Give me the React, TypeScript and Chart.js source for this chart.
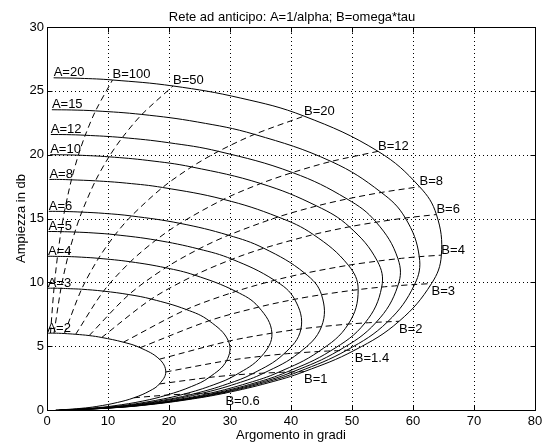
import { useEffect, useRef } from "react";
import { Chart, registerables } from "chart.js";

Chart.register(...registerables);

// A = 1/alpha (solid curves), B = omega*tau (dashed curves)
const aValues = [2, 3, 4, 5, 6, 8, 10, 12, 15, 20];
const bSamples = [0.05, 0.1, 0.2, 0.3, 0.45, 0.6, 0.8, 1, 1.4, 2, 3, 4, 6, 8, 12, 20, 30, 50, 100, 200, 1000];
const dashedB = [0.6, 1, 1.4, 2, 3, 4, 6, 8, 12, 20, 50, 100];
const xTicks = [0, 10, 20, 30, 40, 50, 60, 70, 80];
const yTicks = [0, 5, 10, 15, 20, 25, 30];

// phase (gradi) and gain (dB), one value per bSamples entry
const phaseA2 = [1.43, 2.85, 5.6, 8.17, 11.55, 14.27, 16.86, 18.43, 19.47, 18.43, 15.26, 12.53, 8.97, 6.91, 4.7, 2.85, 1.91, 1.15, 0.57, 0.29, 0.06];
const gainA2 = [0.01, 0.03, 0.13, 0.28, 0.59, 0.96, 1.5, 2.04, 2.98, 3.98, 4.88, 5.31, 5.68, 5.83, 5.93, 5.99, 6.01, 6.02, 6.02, 6.02, 6.02];
const phaseA3 = [1.91, 3.8, 7.5, 10.99, 15.7, 19.65, 23.73, 26.57, 29.44, 29.75, 26.57, 22.83, 17.1, 13.43, 9.27, 5.67, 3.8, 2.29, 1.15, 0.57, 0.11];
const gainA3 = [0.01, 0.04, 0.15, 0.33, 0.7, 1.17, 1.85, 2.55, 3.86, 5.39, 6.99, 7.87, 8.69, 9.04, 9.31, 9.46, 9.5, 9.53, 9.54, 9.54, 9.54];
const phaseA4 = [2.15, 4.28, 8.45, 12.41, 17.81, 22.43, 27.35, 30.96, 35.17, 36.87, 34.7, 30.96, 24.23, 19.44, 13.67, 8.45, 5.69, 3.43, 1.72, 0.86, 0.17];
const gainA4 = [0.01, 0.04, 0.16, 0.35, 0.75, 1.24, 1.98, 2.75, 4.21, 6.02, 8.06, 9.29, 10.56, 11.14, 11.61, 11.88, 11.97, 12.02, 12.03, 12.04, 12.04];
const phaseA5 = [2.29, 4.57, 9.02, 13.27, 19.09, 24.12, 29.57, 33.69, 38.82, 41.63, 40.6, 37.3, 30.34, 24.88, 17.86, 11.17, 7.55, 4.57, 2.29, 1.15, 0.23];
const gainA5 = [0.01, 0.04, 0.16, 0.36, 0.77, 1.27, 2.04, 2.84, 4.39, 6.35, 8.67, 10.16, 11.81, 12.61, 13.31, 13.73, 13.87, 13.94, 13.97, 13.98, 13.98];
const phaseA6 = [2.39, 4.76, 9.4, 13.84, 19.94, 25.25, 31.07, 35.54, 41.33, 45.0, 45.0, 42.27, 35.54, 29.75, 21.8, 13.84, 9.4, 5.7, 2.86, 1.43, 0.29];
const gainA6 = [0.01, 0.04, 0.17, 0.36, 0.78, 1.29, 2.07, 2.89, 4.48, 6.53, 9.03, 10.71, 12.67, 13.69, 14.62, 15.2, 15.4, 15.5, 15.55, 15.56, 15.56];
const phaseA8 = [2.5, 5.0, 9.88, 14.55, 21.01, 26.68, 32.95, 37.88, 44.54, 49.4, 51.01, 49.4, 43.67, 37.88, 28.93, 18.94, 13.02, 7.94, 4.0, 2.01, 0.4];
const gainA8 = [0.01, 0.04, 0.17, 0.37, 0.79, 1.31, 2.11, 2.94, 4.58, 6.73, 9.43, 11.34, 13.74, 15.12, 16.5, 17.43, 17.77, 17.95, 18.03, 18.06, 18.06];
const phaseA10 = [2.58, 5.14, 10.16, 14.98, 21.65, 27.53, 34.09, 39.29, 46.49, 52.13, 54.87, 54.16, 49.57, 44.22, 35.04, 23.7, 16.53, 10.16, 5.14, 2.58, 0.52];
const gainA10 = [0.01, 0.04, 0.17, 0.37, 0.79, 1.32, 2.12, 2.97, 4.63, 6.82, 9.63, 11.66, 14.35, 15.98, 17.74, 19.04, 19.55, 19.83, 19.96, 19.99, 20.0];
const phaseA12 = [2.62, 5.23, 10.36, 15.27, 22.08, 28.1, 34.85, 40.24, 47.81, 53.97, 57.53, 57.53, 53.97, 49.19, 40.24, 28.1, 19.89, 12.35, 6.27, 3.15, 0.63];
const gainA12 = [0.01, 0.04, 0.17, 0.37, 0.8, 1.32, 2.13, 2.98, 4.65, 6.87, 9.74, 11.85, 14.71, 16.53, 18.6, 20.26, 20.94, 21.34, 21.52, 21.57, 21.58];
const phaseA15 = [2.67, 5.33, 10.55, 15.55, 22.51, 28.67, 35.61, 41.19, 49.13, 55.84, 60.26, 61.03, 58.74, 54.8, 46.58, 34.01, 24.66, 15.55, 7.96, 4.0, 0.8];
const gainA15 = [0.01, 0.04, 0.17, 0.37, 0.8, 1.33, 2.14, 2.99, 4.68, 6.91, 9.83, 12.01, 15.04, 17.04, 19.47, 21.59, 22.56, 23.15, 23.43, 23.5, 23.52];
const phaseA20 = [2.72, 5.43, 10.74, 15.84, 22.94, 29.25, 36.37, 42.14, 50.46, 57.72, 63.03, 64.65, 63.84, 61.07, 54.27, 42.14, 31.78, 20.66, 10.74, 5.43, 1.09];
const gainA20 = [0.01, 0.04, 0.17, 0.37, 0.8, 1.33, 2.14, 3.0, 4.69, 6.95, 9.9, 12.13, 15.31, 17.49, 20.26, 23.02, 24.43, 25.38, 25.85, 25.98, 26.02];

const phaseByA = [phaseA2, phaseA3, phaseA4, phaseA5, phaseA6, phaseA8, phaseA10, phaseA12, phaseA15, phaseA20];
const gainByA = [gainA2, gainA3, gainA4, gainA5, gainA6, gainA8, gainA10, gainA12, gainA15, gainA20];

const titleText = "Rete ad anticipo: A=1/alpha; B=omega*tau";
const xTitle = "Argomento in gradi";
const yTitle = "Ampiezza in db";
const FONT = '13px "Liberation Sans", Arial, Helvetica, sans-serif';

type Lbl = { text: string; x: number; y: number; below: boolean };

export default function App() {
  const ref = useRef<HTMLCanvasElement | null>(null);

  useEffect(() => {
    if (!ref.current) return;

    const solidSets = aValues.map((a, k) => ({
      label: `A=${a}`,
      data: bSamples.map((_, i) => ({ x: phaseByA[k][i], y: gainByA[k][i] })),
      borderColor: "#000",
      borderWidth: 1,
      pointRadius: 0,
      showLine: true,
      tension: 0.4,
      fill: false,
    }));

    const dashedSets = dashedB.map((b) => {
      const j = bSamples.indexOf(b);
      return {
        label: `B=${b}`,
        data: aValues.map((_, k) => ({ x: phaseByA[k][j], y: gainByA[k][j] })),
        borderColor: "#000",
        borderWidth: 1,
        borderDash: [6, 4],
        pointRadius: 0,
        showLine: true,
        tension: 0.3,
        fill: false,
      };
    });

    const labels: Lbl[] = [];
    aValues.forEach((a, k) => {
      const last = bSamples.length - 1;
      labels.push({ text: `A=${a}`, x: phaseByA[k][last], y: gainByA[k][last], below: false });
    });
    dashedB.forEach((b) => {
      const j = bSamples.indexOf(b);
      const k = aValues.length - 1;
      labels.push({ text: `B=${b}`, x: phaseByA[k][j], y: gainByA[k][j], below: b <= 3 });
    });

    const framePlugin = {
      id: "matlabFrame",
      beforeDatasetsDraw(chart: any) {
        const { ctx, chartArea } = chart;
        const xs = chart.scales.x;
        const ys = chart.scales.y;
        const L = chartArea.left, R = chartArea.right, T = chartArea.top, B = chartArea.bottom;
        ctx.save();
        ctx.strokeStyle = "#000";
        ctx.lineWidth = 1;
        ctx.setLineDash([1, 3]);
        xTicks.forEach((v) => {
          if (v === xTicks[0] || v === xTicks[xTicks.length - 1]) return;
          const px = Math.round(xs.getPixelForValue(v)) + 0.5;
          ctx.beginPath();
          ctx.moveTo(px, B);
          ctx.lineTo(px, T);
          ctx.stroke();
        });
        yTicks.forEach((v) => {
          if (v === yTicks[0] || v === yTicks[yTicks.length - 1]) return;
          const py = Math.round(ys.getPixelForValue(v)) + 0.5;
          ctx.beginPath();
          ctx.moveTo(L, py);
          ctx.lineTo(R, py);
          ctx.stroke();
        });
        ctx.restore();
      },
      afterDatasetsDraw(chart: any) {
        const { ctx, chartArea } = chart;
        const xs = chart.scales.x;
        const ys = chart.scales.y;
        const L = Math.round(chartArea.left) + 0.5;
        const R = Math.round(chartArea.right) + 0.5;
        const T = Math.round(chartArea.top) + 0.5;
        const B = Math.round(chartArea.bottom) + 0.5;
        ctx.save();
        ctx.strokeStyle = "#000";
        ctx.lineWidth = 1;
        ctx.setLineDash([]);
        ctx.strokeRect(L, T, R - L, B - T);
        const tl = 5;
        ctx.beginPath();
        xTicks.forEach((v) => {
          const px = Math.round(xs.getPixelForValue(v)) + 0.5;
          ctx.moveTo(px, B);
          ctx.lineTo(px, B - tl);
          ctx.moveTo(px, T);
          ctx.lineTo(px, T + tl);
        });
        yTicks.forEach((v) => {
          const py = Math.round(ys.getPixelForValue(v)) + 0.5;
          ctx.moveTo(L, py);
          ctx.lineTo(L + tl, py);
          ctx.moveTo(R, py);
          ctx.lineTo(R - tl, py);
        });
        ctx.stroke();

        // curve labels
        ctx.fillStyle = "#000";
        ctx.font = FONT;
        ctx.textAlign = "left";
        ctx.textBaseline = "alphabetic";
        labels.forEach((l) => {
          const px = xs.getPixelForValue(l.x);
          const py = ys.getPixelForValue(l.y);
          ctx.fillText(l.text, px, l.below ? py + 11.5 : py - 1.5);
        });

        // titles
        const cx = (chartArea.left + chartArea.right) / 2;
        ctx.textAlign = "center";
        ctx.fillText(titleText, cx + 1, 20.5);
        ctx.fillText(xTitle, cx, 438.5);
        ctx.translate(25.3, (chartArea.top + chartArea.bottom) / 2);
        ctx.rotate(-Math.PI / 2);
        ctx.fillText(yTitle, 0, 0);
        ctx.restore();
      },
    };

    const chart = new Chart(ref.current, {
      type: "scatter",
      data: { datasets: [...solidSets, ...dashedSets] as any },
      options: {
        animation: false,
        responsive: false,
        events: [],
        layout: { padding: { left: 0, right: 12, top: 27, bottom: 0 } },
        plugins: {
          legend: { display: false },
          title: { display: false },
          tooltip: { enabled: false },
        },
        scales: {
          x: {
            type: "linear",
            min: 0,
            max: 80,
            grid: { display: false, drawTicks: false },
            border: { display: false },
            ticks: {
              stepSize: 10,
              padding: 4,
              color: "#000",
              font: { family: '"Liberation Sans", Arial, sans-serif', size: 13 },
              maxRotation: 0,
            },
            afterFit: (s: any) => {
              s.height = 33;
            },
          },
          y: {
            type: "linear",
            min: 0,
            max: 30,
            grid: { display: false, drawTicks: false },
            border: { display: false },
            ticks: {
              stepSize: 5,
              padding: 3,
              color: "#000",
              font: { family: '"Liberation Sans", Arial, sans-serif', size: 13 },
            },
            afterFit: (s: any) => {
              s.width = 47;
            },
          },
        },
      } as any,
      plugins: [framePlugin],
    });

    return () => chart.destroy();
  }, []);

  return (
    <div style={{ position: "absolute", left: 0, top: 0, width: 547, height: 443, background: "#fff" }}>
      <canvas ref={ref} width={547} height={443} style={{ display: "block", width: 547, height: 443 }} />
    </div>
  );
}
